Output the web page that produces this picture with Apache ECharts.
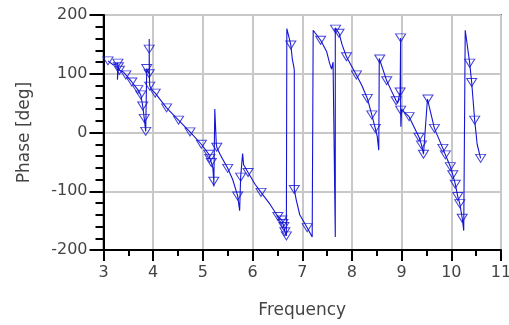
<!DOCTYPE html>
<html>
<head>
<meta charset="utf-8">
<script src="https://cdn.jsdelivr.net/npm/echarts@6/dist/echarts.min.js"></script>
<style>
  html, body { margin: 0; padding: 0; background: #fff; }
  #chart { width: 509px; height: 325px; }
</style>
</head>
<body>
<div id="chart"></div>
<script>
// curve vertices (frequency, phase in degrees)
const freq = [
  3.09, 3.20, 3.29, 3.28, 3.30, 3.32, 3.40, 3.45, 3.57, 3.69, 3.75, 3.79, 3.82, 3.85,
  3.87, 3.89, 3.92, 3.92, 3.92, 3.925, 3.93, 3.98, 4.04,
  4.27, 4.51, 4.74, 4.97, 5.12, 5.14, 5.17, 5.20, 5.22, 5.22, 5.24, 5.27, 5.28, 5.35,
  5.50, 5.60, 5.70, 5.74, 5.76, 5.80, 5.82, 5.91, 6.05, 6.17, 6.35, 6.51, 6.59, 6.61,
  6.63, 6.65, 6.68, 6.69, 6.71, 6.77, 6.80, 6.83, 6.84, 6.84, 6.88, 6.95, 7.10, 7.20,
  7.22, 7.37, 7.49, 7.55, 7.59, 7.62, 7.665, 7.665, 7.67, 7.74, 7.80, 7.89, 8.09, 8.20,
  8.31, 8.40, 8.47, 8.51, 8.54, 8.55, 8.56, 8.70, 8.80, 8.89, 8.92, 8.97, 8.98, 8.98,
  8.985, 9.00, 9.05, 9.15, 9.35, 9.40, 9.44, 9.45, 9.52, 9.53, 9.66, 9.83, 9.88, 9.98,
  10.03, 10.08, 10.13, 10.17, 10.22, 10.25, 10.28, 10.37, 10.41, 10.47, 10.52, 10.59
];
const phase = [
  122, 115, 118, 90, 112, 106, 103, 98, 86, 73, 64, 45, 24, 2,
  109, 104, 100, 159, 142, 95, 79, 72, 67,
  42, 21, 1, -20, -37, -44, -51, -60, -83, -92, 40, -20, -25, -38,
  -61, -80, -108, -133, -76, -36, -55, -68, -88, -102, -122, -143, -149, -155,
  -160, -169, -176, 177, 170, 149, 125, 112, 106, -97, -115, -140, -162, -178,
  174, 157, 138, 118, 108, 120, -178, 178, 176, 169, 150, 129, 98, 80,
  58, 30, 7, -7, -30, 126, 125, 88, 70, 54, 50, 69, 161, 38,
  10, 40, 35, 27, -8, -21, -37, -40, 57, 57, 7, -27, -38, -58,
  -72, -88, -109, -121, -146, -167, 174, 118, 85, 21, -20, -44
];
// triangle markers
const markFreq = [
  3.09, 3.29, 3.30, 3.32, 3.45, 3.57, 3.69, 3.75, 3.79, 3.82, 3.85, 3.87, 3.92, 3.92,
  3.93, 4.04, 4.27, 4.51, 4.74, 4.97, 5.12, 5.14, 5.17, 5.22, 5.28, 5.50, 5.70, 5.76,
  5.91, 6.17, 6.51, 6.59, 6.61, 6.63, 6.65, 6.68, 6.77, 6.84, 7.10, 7.37, 7.67, 7.74,
  7.89, 8.09, 8.31, 8.40, 8.47, 8.56, 8.70, 8.89, 8.97, 8.98, 8.98, 9.15, 9.35, 9.40,
  9.44, 9.53, 9.66, 9.83, 9.88, 9.98, 10.03, 10.08, 10.13, 10.17, 10.22, 10.37, 10.41,
  10.47, 10.59
];
const markPhase = [
  122, 118, 112, 106, 98, 86, 73, 64, 45, 24, 2, 109, 100, 142,
  79, 67, 42, 21, 1, -20, -37, -44, -51, -83, -25, -61, -108, -76,
  -68, -102, -143, -149, -155, -160, -169, -176, 149, -97, -162, 157, 176, 169,
  129, 98, 58, 30, 7, 125, 88, 54, 69, 161, 38, 27, -8, -21,
  -37, 57, 7, -27, -38, -58, -72, -88, -109, -121, -146, 118, 85,
  21, -44
];

const blue = '#1414d2';
const textColor = '#444';
const font = 'DejaVu Sans';

const chart = echarts.init(document.getElementById('chart'));

const option = {
  animation: false,
  grid: {
    left: 103.5,
    right: 8,
    top: 15,
    bottom: 75,
    outerBoundsMode: 'none',
    show: true,
    borderColor: '#000',
    borderWidth: 1.5,
    backgroundColor: 'transparent'
  },
  xAxis: {
    type: 'value',
    min: 3,
    max: 11,
    interval: 1,
    name: 'Frequency',
    nameLocation: 'middle',
    nameGap: 52,
    nameTextStyle: { color: textColor, fontFamily: font, fontSize: 17 },
    axisLine: { onZero: false, lineStyle: { color: '#000', width: 2 } },
    axisTick: { length: 11, lineStyle: { color: '#000', width: 2 } },
    minorTick: { show: true, splitNumber: 2, length: 6, lineStyle: { color: '#000', width: 2 } },
    axisLabel: { color: textColor, fontFamily: font, fontSize: 16, margin: 15 },
    splitLine: { show: true, lineStyle: { color: '#c8c8c8', width: 2 } }
  },
  yAxis: {
    type: 'value',
    min: -200,
    max: 200,
    interval: 100,
    name: 'Phase [deg]',
    nameLocation: 'middle',
    nameGap: 70,
    nameTextStyle: { color: textColor, fontFamily: font, fontSize: 17 },
    axisLine: { onZero: false, lineStyle: { color: '#000', width: 2 } },
    axisTick: { length: 14, lineStyle: { color: '#000', width: 2 } },
    minorTick: { show: true, splitNumber: 5, length: 8, lineStyle: { color: '#000', width: 2 } },
    axisLabel: { color: textColor, fontFamily: font, fontSize: 16, margin: 16 },
    splitLine: { show: true, lineStyle: { color: '#c8c8c8', width: 2 } }
  },
  series: [
    {
      type: 'line',
      data: freq.map((f, i) => [f, phase[i]]),
      showSymbol: false,
      lineStyle: { color: blue, width: 1.1 },
      z: 3
    },
    {
      type: 'scatter',
      data: markFreq.map((f, i) => [f, markPhase[i]]),
      symbol: 'triangle',
      symbolRotate: 180,
      symbolSize: [10, 8],
      itemStyle: { color: 'rgba(0,0,0,0)', borderColor: blue, borderWidth: 1 },
      z: 4
    }
  ]
};

chart.setOption(option);
</script>
</body>
</html>
